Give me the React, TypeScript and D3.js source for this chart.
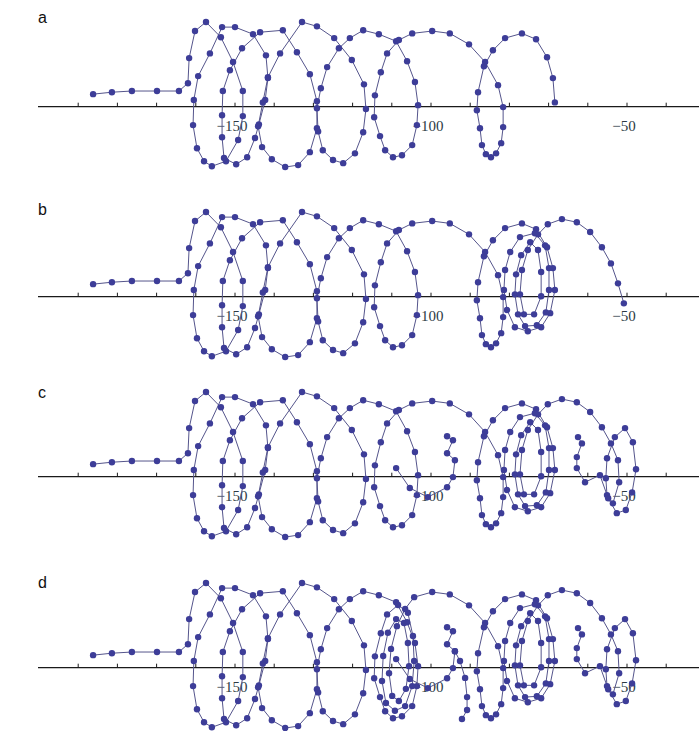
import React from "react";
import * as d3 from "d3";

type Pt = [number, number];

// Flat approach and the rise into the first loop
const approach: Pt[] = [
  [-186.2, 3.2], [-181.4, 3.7], [-176.3, 4.0], [-169.9, 4.0], [-164.3, 4.0],
  [-162.0, 6.0], [-161.7, 12.4], [-160.2, 19.3], [-157.4, 21.6],
];

const loop1: Pt[] = [
  [-153.6, 17.7], [-150.5, 11.4], [-148.0, 4.0], [-148.0, -2.4], [-149.2, -8.5],
  [-152.3, -13.9], [-155.9, -15.2], [-157.9, -13.9], [-159.7, -10.6], [-160.7, -4.7],
  [-160.5, 1.7], [-159.4, 7.8], [-156.4, 13.6], [-153.3, 20.3],
];

const loop2: Pt[] = [
  [-150.0, 20.3], [-145.4, 18.5], [-142.1, 13.1], [-141.6, 7.3], [-142.3, 1.7],
  [-143.9, -4.5], [-144.9, -8.0], [-146.9, -12.9], [-149.7, -14.7], [-152.8, -13.1],
  [-153.3, -7.8], [-153.3, -2.2], [-153.1, 4.0], [-151.3, 9.3], [-148.2, 14.9],
  [-143.6, 19.0],
];

const loop3: Pt[] = [
  [-137.8, 19.5], [-134.2, 13.9], [-130.9, 8.3], [-129.1, 1.4], [-129.1, -5.5],
  [-130.9, -11.6], [-133.9, -14.9], [-137.2, -15.4], [-140.6, -13.4], [-143.1, -10.3],
  [-144.1, -5.0], [-142.9, 1.1], [-141.6, 7.5], [-138.5, 13.6], [-132.9, 21.6],
];

const loop4: Pt[] = [
  [-129.1, 20.5], [-124.7, 17.5], [-120.2, 11.9], [-117.1, 5.7], [-116.6, -0.6],
  [-117.3, -6.5], [-119.4, -11.9], [-122.4, -14.4], [-125.0, -13.6], [-127.6, -11.1],
  [-128.8, -6.3], [-129.1, -0.4], [-128.1, 4.7], [-126.5, 10.1], [-123.5, 14.9],
  [-120.7, 17.5], [-117.3, 19.5], [-113.3, 18.5],
];

// Loop 5: descent, bottom and climb back to the crossing
const loop5: Pt[] = [
  [-108.9, 16.7], [-106.1, 11.6], [-104.1, 6.3], [-103.3, 0.4], [-103.6, -4.7],
  [-104.8, -9.8], [-107.4, -12.4], [-109.7, -12.9], [-111.7, -11.1], [-113.0, -7.5],
  [-114.5, -2.7], [-114.3, 2.9], [-112.8, 8.8], [-111.2, 13.6],
];
// Top of loop 5 running over to loop 6
const loop5Top: Pt[] = [
  [-108.2, 17.0], [-104.8, 18.7], [-99.7, 19.3], [-95.2, 18.7], [-90.3, 15.9], [-86.2, 11.4],
];
// Extra turns inside loop 5 (run d)
const loop5Nest: Pt[] = [
  [-108.4, 16.0], [-105.9, 14.0], [-104.6, 8.1], [-104.3, 1.7], [-104.8, -4.7],
  [-106.6, -9.8], [-109.2, -11.0], [-111.5, -9.0], [-112.5, -3.4], [-112.2, 3.0],
  [-111.0, 8.9], [-108.9, 12.4], [-106.9, 11.4], [-105.9, 6.3], [-105.6, 0.4],
  [-106.4, -5.4], [-108.2, -8.5], [-109.9, -7.2], [-110.7, -1.4], [-110.2, 4.8],
  [-108.7, 10.6], [-106.6, 15.0], [-104.3, 18.0],
];

const loop6: Pt[] = [
  [-82.9, 5.5], [-81.6, -0.1], [-81.6, -5.2], [-82.1, -9.3], [-83.4, -11.9],
  [-84.7, -12.9], [-86.0, -12.1], [-87.0, -9.8], [-87.5, -5.5], [-88.3, -0.9],
  [-88.0, 3.7],
];

// Last arch leaving loop 6
const arch: Pt[] = [
  [-86.5, 10.3], [-84.2, 14.4], [-81.1, 17.5], [-76.8, 18.7], [-73.2, 17.2],
  [-70.4, 12.6], [-68.9, 7.3],
];
const endA: Pt[] = [[-68.4, 1.1]];

// Nested loops that follow the arch in runs b-d
const nest: Pt[] = [
  [-68.4, 1.7], [-69.6, -4.2], [-71.9, -7.8], [-75.3, -8.8], [-78.6, -7.8],
  [-80.6, -3.4], [-81.4, 1.7], [-81.1, 6.8], [-79.8, 11.4], [-77.3, 15.2],
  [-73.5, 16.2], [-70.9, 13.1], [-69.9, 7.3], [-69.9, 1.7], [-70.7, -4.0],
  [-73.0, -7.3], [-76.0, -7.5], [-77.8, -4.5], [-78.6, 0.6], [-78.3, 5.7],
  [-77.0, 10.6], [-74.7, 13.9], [-72.7, 11.9], [-71.9, 6.3], [-71.9, 0.1],
  [-73.7, -4.5], [-76.3, -4.5], [-77.3, 0.6], [-76.8, 6.8], [-75.3, 11.9],
  [-72.7, 15.9], [-70.2, 18.5], [-66.6, 19.8], [-62.8, 19.0], [-59.4, 16.5],
  [-56.4, 12.6], [-54.1, 8.5],
];
const endB: Pt[] = [[-52.3, 3.4], [-50.8, -1.7]];

// Small loops near -50 and the hook that follows (runs c, d)
const smallLoops: Pt[] = [
  [-52.3, 4.2], [-52.0, -1.4], [-53.6, -6.8], [-55.1, -4.7], [-55.4, -0.4],
  [-55.1, 4.7], [-53.1, 10.1], [-50.5, 12.4], [-48.5, 8.8], [-47.7, 1.9],
  [-48.7, -4.0], [-50.3, -8.5], [-52.6, -9.3], [-54.8, -5.5], [-56.9, 0.4],
  [-60.7, -1.4], [-62.8, 2.2], [-62.8, 5.0], [-61.5, 8.5], [-62.5, 10.1],
];

const hook: Pt[] = [
  [-95.9, 10.3], [-94.4, 9.3], [-95.9, 6.0], [-93.9, 4.2], [-94.4, -0.1],
  [-95.9, -2.7], [-100.8, -5.2], [-105.4, -2.9], [-108.9, 2.2],
];

// Drop below the axis near -92 (run d)
const tail: Pt[] = [
  [-93.9, 4.2], [-92.6, 1.7], [-91.3, -2.6], [-90.8, -7.5], [-90.8, -10.8], [-92.1, -13.1],
];

const head: Pt[] = [...approach, ...loop1, ...loop2, ...loop3, ...loop4];
const common: Pt[] = [...head, ...loop5, ...loop5Top, ...loop6, ...arch];
const commonD: Pt[] = [...head, ...loop5, ...loop5Nest, ...loop5Top.slice(2), ...loop6, ...arch];

const panels: { label: string; axisY: number; labelY: number; tracks: Pt[][] }[] = [
  { label: "a", axisY: 106.7, labelY: 23, tracks: [[...common, ...endA]] },
  { label: "b", axisY: 296.7, labelY: 215, tracks: [[...common, ...nest, ...endB]] },
  { label: "c", axisY: 476.7, labelY: 398, tracks: [[...common, ...nest, ...smallLoops], hook] },
  { label: "d", axisY: 667.7, labelY: 588, tracks: [[...commonD, ...nest, ...smallLoops], hook, tail] },
];

const tickValues = d3.range(-190, -39, 10);
const labelled = [-150, -100, -50];

const x = d3.scaleLinear().domain([-150, -50]).range([235, 627]);

export default function App() {
  return (
    <svg
      width={699}
      height={731}
      style={{ position: "absolute", left: 0, top: 0, background: "#ffffff" }}
    >
      {panels.map((p) => {
        const y = d3.scaleLinear().domain([0, 10]).range([p.axisY, p.axisY - 39.2]);
        const line = d3.line<Pt>().x((d) => x(d[0])).y((d) => y(d[1]));
        return (
          <g key={p.label}>
            <text x={38} y={p.labelY} fontFamily="Liberation Sans, Arial, sans-serif" fontSize={16} fill="#111">
              {p.label}
            </text>
            <line x1={38} x2={699} y1={p.axisY} y2={p.axisY} stroke="#1a1a1a" strokeWidth={1.2} />
            {tickValues.map((t) => (
              <line key={t} x1={x(t)} x2={x(t)} y1={p.axisY} y2={p.axisY - 4} stroke="#1a1a1a" strokeWidth={1} />
            ))}
            {labelled.map((t) => (
              <text
                key={t}
                x={x(t) - 3}
                y={p.axisY + 24}
                textAnchor="middle"
                fontFamily="Liberation Serif, Times New Roman, serif"
                fontSize={15}
                fill="#2c3a44"
              >
                {"\u2212" + Math.abs(t)}
              </text>
            ))}
            {p.tracks.map((tr, i) => (
              <g key={i}>
                <path d={line(tr) ?? ""} fill="none" stroke="#55558c" strokeWidth={1} />
                {tr.map((d, j) => (
                  <circle key={j} cx={x(d[0])} cy={y(d[1])} r={3.2} fill="#3d3d98" />
                ))}
              </g>
            ))}
          </g>
        );
      })}
    </svg>
  );
}
